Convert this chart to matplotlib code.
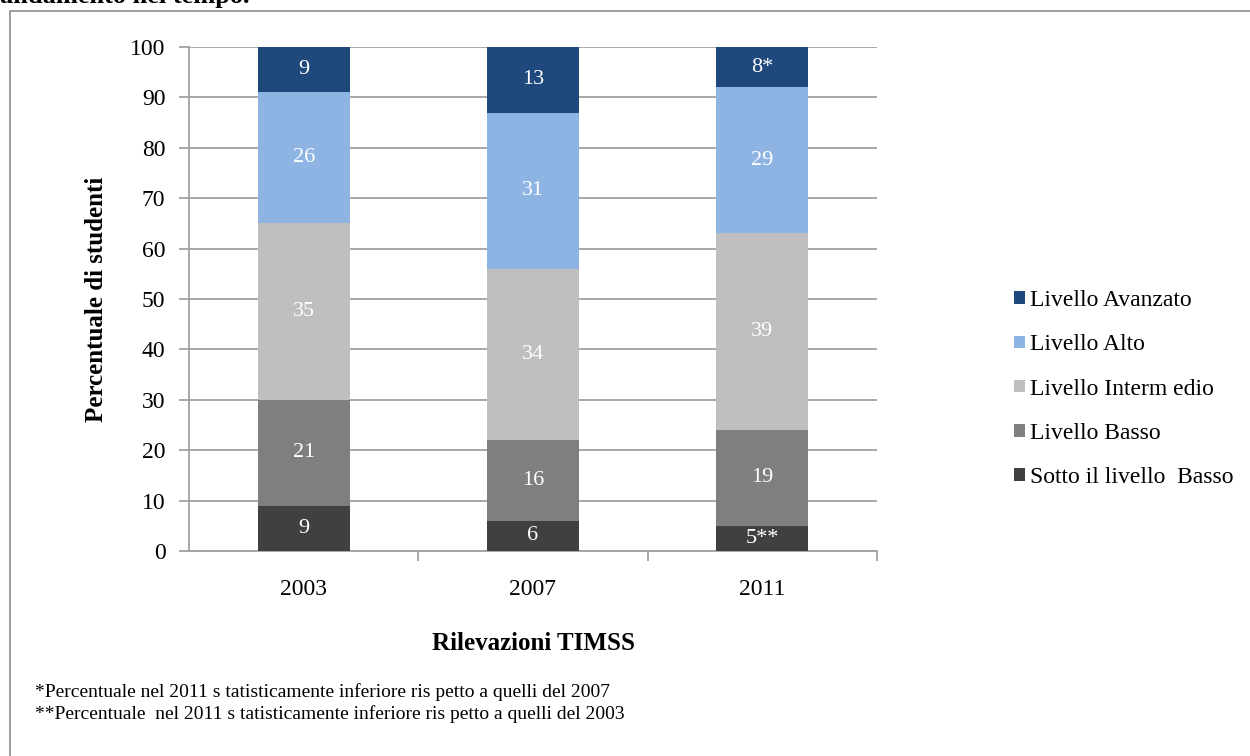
import matplotlib
matplotlib.use("Agg")
import matplotlib.pyplot as plt
from matplotlib.patches import Rectangle
import numpy as np

years = ["2003", "2007", "2011"]
series_names = ["Sotto il livello  Basso", "Livello Basso", "Livello Interm edio",
                "Livello Alto", "Livello Avanzato"]
sotto = [9, 6, 5]
basso = [21, 16, 19]
intermedio = [35, 34, 39]
alto = [26, 31, 29]
avanzato = [9, 13, 8]
sotto_labels = ["9", "6", "5**"]
basso_labels = ["21", "16", "19"]
intermedio_labels = ["35", "34", "39"]
alto_labels = ["26", "31", "29"]
avanzato_labels = ["9", "13", "8*"]
y_ticks = [0, 10, 20, 30, 40, 50, 60, 70, 80, 90, 100]

colors = ["#404040", "#7f7f7f", "#bfbfbf", "#8eb4e3", "#1f497d"]
serif = ["Liberation Serif", "DejaVu Serif"]

fig = plt.figure(figsize=(12.5, 7.56), dpi=100)
fig.patch.set_facecolor("white")

# outer frame (cut at right / bottom)
fig.patches.append(Rectangle((10 / 1250, -0.1), 1.2, 1 - 11 / 756 + 0.1,
                             transform=fig.transFigure, fill=False,
                             edgecolor="#8c8c8c", linewidth=1.2))
# partially cut title above the frame
fig.text(0.0, 1 - 3 / 756, "andamento nel tempo.", fontsize=19, fontweight="bold",
         family=serif, ha="left", va="baseline")

ax = fig.add_axes([189 / 1250, 1 - 551 / 756, (877 - 189) / 1250, (551 - 47) / 756])
x = np.arange(len(years))
data = [sotto, basso, intermedio, alto, avanzato]
labels = [sotto_labels, basso_labels, intermedio_labels, alto_labels, avanzato_labels]
bottom = np.zeros(len(years))
handles = []
for vals, lab, col, name in zip(data, labels, colors, series_names):
    vals = np.array(vals, dtype=float)
    b = ax.bar(x, vals, 0.4, bottom=bottom, color=col, label=name, zorder=3)
    handles.append(b)
    for xi, v, bt, t in zip(x, vals, bottom, lab):
        ax.text(xi, bt + v / 2, t, ha="center", va="center", color="white",
                fontsize=16, family=serif, zorder=4)
    bottom += vals

ax.set_xlim(-0.5, 2.5)
ax.set_ylim(0, 100)
ax.set_yticks(y_ticks)
ax.set_yticklabels([str(t) for t in y_ticks], family=serif, fontsize=17)
ax.yaxis.grid(True, color="#a0a0a0", linewidth=1.3, zorder=0)
ax.set_axisbelow(True)
ax.set_xticks(x)
ax.set_xticklabels(years, family=serif, fontsize=17)
ax.tick_params(axis="x", length=0, pad=20)
ax.tick_params(axis="y", length=7, color="#a0a0a0", width=1.3, pad=10)
# category separators ticks
ax.set_xticks([0.5, 1.5, 2.5], minor=True)
ax.tick_params(axis="x", which="minor", length=7, color="#a0a0a0", width=1.3)
for s in ["top", "right"]:
    ax.spines[s].set_visible(False)
for s in ["left", "bottom"]:
    ax.spines[s].set_color("#a0a0a0")
    ax.spines[s].set_linewidth(1.3)

ax.set_ylabel("Percentuale di studenti", family=serif, fontsize=18,
              fontweight="bold", labelpad=16)
ax.set_xlabel("Rilevazioni TIMSS", family=serif, fontsize=18,
              fontweight="bold", labelpad=23)

leg = fig.legend(handles[::-1], series_names[::-1], loc="upper left",
                 bbox_to_anchor=(993 / 1250, 1 - 269 / 756), frameon=False,
                 prop={"family": serif, "size": 17}, handlelength=0.45,
                 handleheight=0.45, handletextpad=0.2, labelspacing=0.98)

fig.text(35 / 1250, 1 - 692 / 756,
         "*Percentuale nel 2011 s tatisticamente inferiore ris petto a quelli del 2007",
         family=serif, fontsize=14, va="center", ha="left")
fig.text(35 / 1250, 1 - 714 / 756,
         "**Percentuale  nel 2011 s tatisticamente inferiore ris petto a quelli del 2003",
         family=serif, fontsize=14, va="center", ha="left")

fig.savefig("out.png", dpi=100)
